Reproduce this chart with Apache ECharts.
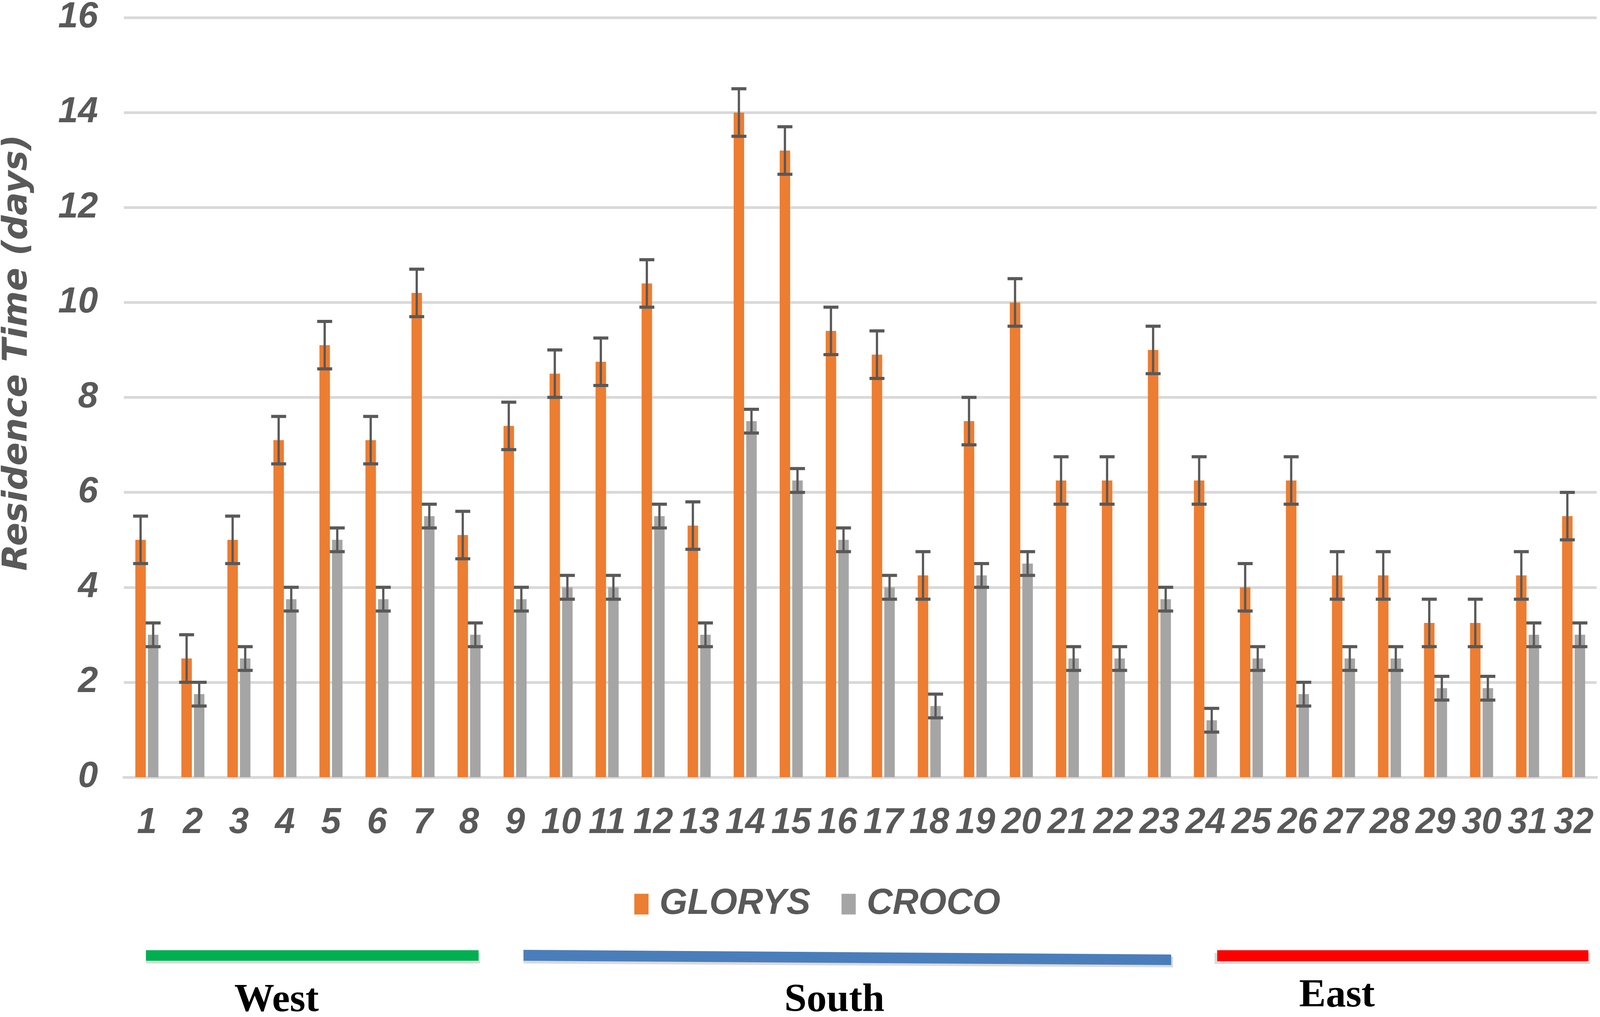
<!DOCTYPE html>
<html>
<head>
<meta charset="utf-8">
<script src="https://cdn.jsdelivr.net/npm/echarts@6/dist/echarts.min.js"></script>
<style>
  html, body { margin: 0; padding: 0; background: #ffffff; overflow: hidden; }
  #chart { width: 100vw; height: 100vh; }
</style>
</head>
<body>
<div id="chart"></div>
<script>
// ---- Data ----
const categories = ['1','2','3','4','5','6','7','8','9','10','11','12','13','14','15','16',
                    '17','18','19','20','21','22','23','24','25','26','27','28','29','30','31','32'];
const seriesNames = ['GLORYS', 'CROCO'];
const glorys = [5.0, 2.5, 5.0, 7.1, 9.1, 7.1, 10.2, 5.1, 7.4, 8.5, 8.75, 10.4, 5.3, 14.0, 13.2, 9.4,
                8.9, 4.25, 7.5, 10.0, 6.25, 6.25, 9.0, 6.25, 4.0, 6.25, 4.25, 4.25, 3.25, 3.25, 4.25, 5.5];
const croco  = [3.0, 1.75, 2.5, 3.75, 5.0, 3.75, 5.5, 3.0, 3.75, 4.0, 4.0, 5.5, 3.0, 7.5, 6.25, 5.0,
                4.0, 1.5, 4.25, 4.5, 2.5, 2.5, 3.75, 1.2, 2.5, 1.75, 2.5, 2.5, 1.875, 1.875, 3.0, 3.0];
const glorysErr = [0.5,0.5,0.5,0.5,0.5,0.5,0.5,0.5,0.5,0.5,0.5,0.5,0.5,0.5,0.5,0.5,
                   0.5,0.5,0.5,0.5,0.5,0.5,0.5,0.5,0.5,0.5,0.5,0.5,0.5,0.5,0.5,0.5];
const crocoErr  = [0.25,0.25,0.25,0.25,0.25,0.25,0.25,0.25,0.25,0.25,0.25,0.25,0.25,0.25,0.25,0.25,
                   0.25,0.25,0.25,0.25,0.25,0.25,0.25,0.25,0.25,0.25,0.25,0.25,0.25,0.25,0.25,0.25];
const yTicks = { min: 0, max: 16, interval: 2 };
const yAxisTitle = 'Residence Time (days)';
const regionNames = ['West', 'South', 'East'];

// ---- Layout scale (design space 4276 x 2604, mapped onto the actual viewport) ----
const SX = window.innerWidth / 4276;
const SY = window.innerHeight / 2604;
const px = v => v * SX;   // horizontal sizes
const py = v => v * SY;   // vertical sizes
const fs = v => v * Math.min(SX, SY); // font sizes

// ---- Styles ----
const ORANGE = '#ED7D31', GREY = '#A5A5A5', TXT = '#595959', GRID = '#D9D9D9';
const SANS = '"Liberation Sans", Arial, sans-serif';
const SERIF = '"Liberation Serif", "Times New Roman", serif';
const BAR_W = px(28), BAR_GAP = 0.2;
const OFFSET = (BAR_W + BAR_W * BAR_GAP) / 2;
const CAP = px(40);

function errRender(offset) {
  return function (params, api) {
    const i = api.value(0), v = api.value(1), e = api.value(2);
    const t = api.coord([i, v + e]);
    const b = api.coord([i, v - e]);
    const x = t[0] + offset;
    const st = { stroke: TXT, lineWidth: px(6) };
    const cs = { stroke: TXT, lineWidth: py(8) };
    return {
      type: 'group',
      children: [
        { type: 'line', shape: { x1: x, y1: t[1], x2: x, y2: b[1] }, style: st },
        { type: 'line', shape: { x1: x - CAP / 2, y1: t[1], x2: x + CAP / 2, y2: t[1] }, style: cs },
        { type: 'line', shape: { x1: x - CAP / 2, y1: b[1], x2: x + CAP / 2, y2: b[1] }, style: cs }
      ]
    };
  };
}

const chart = echarts.init(document.getElementById('chart'), null, { renderer: 'canvas' });

const labelFont = { fontFamily: SANS, fontSize: fs(96), fontWeight: 'bold', fontStyle: 'italic', color: TXT };

const option = {
  backgroundColor: '#ffffff',
  animation: false,
  grid: { left: px(331), right: px(9), top: py(45), bottom: py(614), containLabel: false, outerBoundsMode: 'none' },
  legend: {
    data: seriesNames,
    left: px(1690), top: py(2310) - fs(48),
    icon: 'rect', itemWidth: px(38), itemHeight: py(53), itemGap: px(83),
    textStyle: Object.assign({}, labelFont, { padding: [0, 0, 0, px(24)] })
  },
  xAxis: {
    type: 'category',
    data: categories,
    axisLine: { show: true, lineStyle: { color: GRID, width: py(7) } },
    axisTick: { show: false },
    axisLabel: Object.assign({ margin: py(72), interval: 0 }, labelFont)
  },
  yAxis: {
    type: 'value',
    min: yTicks.min, max: yTicks.max, interval: yTicks.interval,
    axisLine: { show: false }, axisTick: { show: false },
    splitLine: { show: true, lineStyle: { color: GRID, width: py(7) } },
    axisLabel: Object.assign({ margin: px(69) }, labelFont)
  },
  series: [
    { name: seriesNames[0], type: 'bar', data: glorys, barWidth: BAR_W, barGap: (BAR_GAP * 100) + '%', itemStyle: { color: ORANGE } },
    { name: seriesNames[1], type: 'bar', data: croco, barWidth: BAR_W, itemStyle: { color: GREY } },
    { name: 'err0', type: 'custom', silent: true, z: 5, renderItem: errRender(-OFFSET),
      data: glorys.map((v, i) => [i, v, glorysErr[i]]) },
    { name: 'err1', type: 'custom', silent: true, z: 5, renderItem: errRender(OFFSET),
      data: croco.map((v, i) => [i, v, crocoErr[i]]) }
  ],
  graphic: [
    { type: 'text', x: px(47), y: py(903), rotation: Math.PI / 2,
      style: { text: yAxisTitle, align: 'center', verticalAlign: 'middle', fontFamily: '"DejaVu Sans", sans-serif', fontSize: fs(92), fontWeight: 'bold', fontStyle: 'italic', fill: TXT } },
    // West bar + shadow
    { type: 'rect', shape: { x: px(390), y: py(2439), width: px(893), height: py(28) }, style: { fill: '#DADADA' }, z: 1 },
    { type: 'rect', shape: { x: px(390), y: py(2433), width: px(889), height: py(27) }, style: { fill: '#00B050' }, z: 2 },
    // South slanted bar + shadow
    { type: 'polygon', shape: { points: [[px(1399), py(2438)], [px(3135), py(2450)], [px(3135), py(2477)], [px(1399), py(2467)]] }, style: { fill: '#DADADA' }, z: 1 },
    { type: 'polygon', shape: { points: [[px(1399), py(2432)], [px(3130), py(2444)], [px(3130), py(2471)], [px(1399), py(2460)]] }, style: { fill: '#4A7EBB' }, z: 2 },
    // East bar + shadow
    { type: 'rect', shape: { x: px(3246), y: py(2440), width: px(1003), height: py(28) }, style: { fill: '#DADADA' }, z: 1 },
    { type: 'rect', shape: { x: px(3253), y: py(2433), width: px(992), height: py(28) }, style: { fill: '#FF0000' }, z: 2 },
    { type: 'text', x: px(739), y: py(2563), style: { text: regionNames[0], align: 'center', verticalAlign: 'middle', fontFamily: SERIF, fontSize: fs(107), fontWeight: 'bold', fill: '#000' } },
    { type: 'text', x: px(2230), y: py(2563), style: { text: regionNames[1], align: 'center', verticalAlign: 'middle', fontFamily: SERIF, fontSize: fs(107), fontWeight: 'bold', fill: '#000' } },
    { type: 'text', x: px(3573), y: py(2551), style: { text: regionNames[2], align: 'center', verticalAlign: 'middle', fontFamily: SERIF, fontSize: fs(107), fontWeight: 'bold', fill: '#000' } }
  ]
};
chart.setOption(option);
window.addEventListener('resize', () => chart.resize());
</script>
</body>
</html>
